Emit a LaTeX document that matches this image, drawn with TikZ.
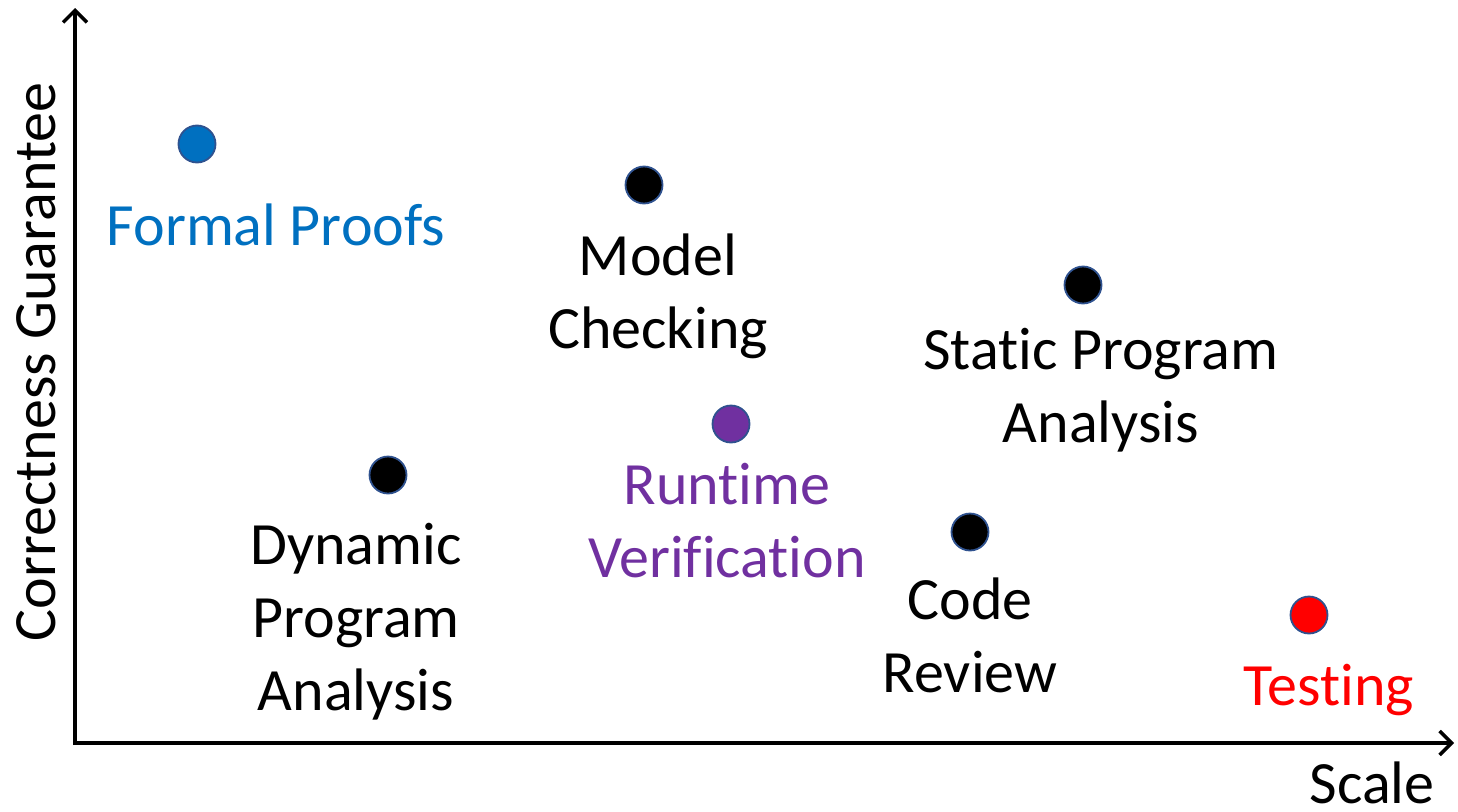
\documentclass[tikz,border=0pt]{standalone}
\usepackage{fontspec}
\setmainfont{Carlito}[Ligatures={NoCommon,NoRare,NoContextual}]
\usetikzlibrary{arrows.meta}
\definecolor{fpblue}{HTML}{0070C0}
\definecolor{rvpurple}{HTML}{7030A0}
\definecolor{dotedge}{HTML}{2F528F}
\begin{document}
\begin{tikzpicture}[x=1pt,y=-1pt,
  axis/.style={line width=3.5pt,-{Straight Barb[length=12pt,width=24pt,line width=3.5pt]}},
  dot/.style={circle,draw=dotedge,line width=1.8pt,minimum size=37pt,inner sep=0pt},
  lbl/.style={font=\fontsize{60}{73}\selectfont,align=center,inner sep=0pt,anchor=base}]
\useasboundingbox (0,0) rectangle (1458,811);
\coordinate (ytip) at (75,8);
\coordinate (xtip) at (1454,743);
\coordinate (ybase) at (75,745);
\coordinate (xbase) at (73,743);
\draw[axis] (ybase) -- (ytip);
\draw[axis] (xbase) -- (xtip);
\node[lbl,rotate=90] (ylab) at (55,362) {Correctness Guarantee};
\node[lbl] (xlab) at (1372,803) {Scale};
\node[dot,fill=fpblue] (fp) at (197,144) {};
\node[lbl,text=fpblue] (fpl) at (276,245) {Formal Proofs};
\node[dot,fill=black] (mc) at (644,185) {};
\node[lbl] (mcl) at (658,348) {Model\\Checking};
\node[dot,fill=black] (sp) at (1083,285) {};
\node[lbl] (spl) at (1101,442) {Static Program\\Analysis};
\node[dot,fill=rvpurple] (rv) at (731,424) {};
\node[lbl,text=rvpurple] (rvl) at (727,577) {Runtime\\Verification};
\node[dot,fill=black] (dp) at (388,475) {};
\node[lbl] (dpl) at (356,710) {Dynamic\\Program\\Analysis};
\node[dot,fill=black] (cr) at (970,532) {};
\node[lbl] (crl) at (970,692) {Code\\Review};
\node[dot,fill=red] (ts) at (1309,615) {};
\node[lbl,text=red] (tsl) at (1329,705) {Testing};
\end{tikzpicture}
\end{document}
